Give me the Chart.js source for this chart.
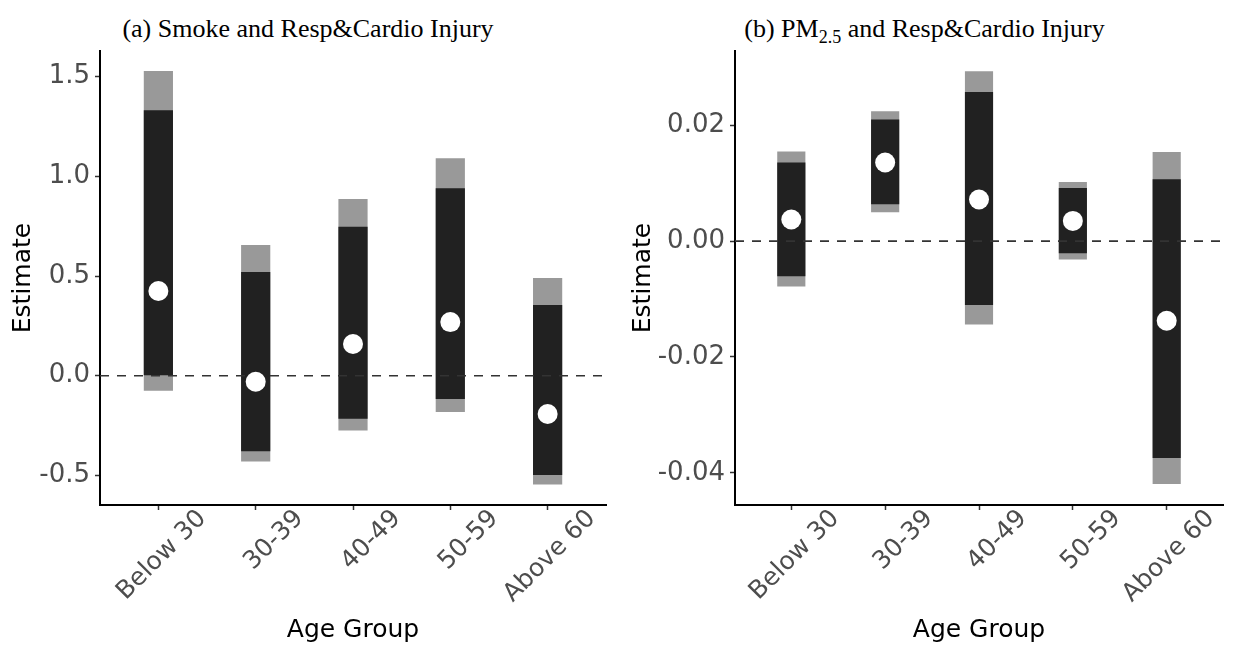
<!DOCTYPE html>
<html lang="en">
<head>
  <meta charset="UTF-8">
  <title>Resp&amp;Cardio Injury by Age Group</title>
  <script src="https://cdn.jsdelivr.net/npm/chart.js"></script>
  <style>
    html, body { margin: 0; padding: 0; background: #fff; }
    #wrap { position: relative; width: 1233px; height: 648px; }
    canvas { position: absolute; top: 0; }
    #graficoA { left: 0; }
    #graficoB { left: 616px; }
    .titulo {
      position: absolute; top: 16px; text-align: center; white-space: nowrap;
      font-family: "Liberation Serif", "DejaVu Serif", serif; font-size: 26px; line-height: 26px; color: #000;
    }
    .titulo sub { font-size: 18px; line-height: 0; vertical-align: -6px; }
  </style>
</head>
<body>
<div id="wrap">
  <div class="titulo" style="left:0; width:616px">(a) Smoke and Resp&amp;Cardio Injury</div>
  <div class="titulo" style="left:616px; width:617px">(b) PM<sub>2.5</sub> and Resp&amp;Cardio Injury</div>
  <canvas id="graficoA" width="616" height="648"></canvas>
  <canvas id="graficoB" width="617" height="648"></canvas>
</div>

<script>
  // age groups shared by both panels
  const categorias = ['Below 30', '30-39', '40-49', '50-59', 'Above 60'];

  // (a) smoke: point estimate, inner (dark) and outer (grey) intervals
  const smokeEst     = [0.425, -0.030, 0.159, 0.269, -0.192];
  const smokeInnerLo = [0.003, -0.378, -0.216, -0.117, -0.498];
  const smokeInnerHi = [1.331, 0.520, 0.747, 0.940, 0.355];
  const smokeOuterLo = [-0.075, -0.430, -0.274, -0.182, -0.545];
  const smokeOuterHi = [1.528, 0.655, 0.886, 1.090, 0.490];
  const smokeTicks   = [-0.5, 0.0, 0.5, 1.0, 1.5];

  // (b) PM2.5
  const pmEst     = [0.00374, 0.01358, 0.00720, 0.00350, -0.01375];
  const pmInnerLo = [-0.00604, 0.00638, -0.01104, -0.00207, -0.03745];
  const pmInnerHi = [0.01358, 0.02100, 0.02577, 0.00920, 0.01070];
  const pmOuterLo = [-0.00782, 0.00500, -0.01438, -0.00316, -0.04193];
  const pmOuterHi = [0.01548, 0.02243, 0.02934, 0.01023, 0.01541];
  const pmTicks   = [-0.04, -0.02, 0.00, 0.02];

  const fonte = "'DejaVu Sans', sans-serif";

  // dashed zero line, drawn after the dark bars and before the points
  const linhaZero = {
    id: 'linhaZero',
    afterDatasetDraw(chart, args) {
      if (args.index !== 1) return;
      const { ctx, chartArea, scales } = chart;
      const y = scales.y.getPixelForValue(0);
      ctx.save();
      ctx.strokeStyle = '#333';
      ctx.lineWidth = 1.6;
      ctx.setLineDash([9, 8]);
      ctx.beginPath();
      ctx.moveTo(chartArea.left, y);
      ctx.lineTo(chartArea.right, y);
      ctx.stroke();
      ctx.restore();
    }
  };

  function criarGrafico(id, est, inLo, inHi, outLo, outHi, ticks, yMin, yMax, casas, eixoY, dirPad, tituloPad) {
    const faixa = (lo, hi) => categorias.map((c, i) => ({ x: i + 1, y: [lo[i], hi[i]] }));

    return new Chart(document.getElementById(id).getContext('2d'), {
      type: 'bar',
      data: {
        datasets: [
          { data: faixa(outLo, outHi), backgroundColor: '#999999', grouped: false, order: 3,
            categoryPercentage: 1, barPercentage: 0.3 },
          { data: faixa(inLo, inHi), backgroundColor: '#212121', grouped: false, order: 2,
            categoryPercentage: 1, barPercentage: 0.3 },
          { type: 'scatter', data: est.map((v, i) => ({ x: i + 1, y: v })), order: 1,
            pointRadius: 10, pointBackgroundColor: '#ffffff', pointBorderWidth: 0 }
        ]
      },
      options: {
        responsive: false,
        animation: false,
        layout: { padding: { top: 51, right: dirPad, bottom: 0, left: 0 } },
        plugins: { legend: { display: false }, tooltip: { enabled: false } },
        scales: {
          x: {
            type: 'linear', min: 0.4, max: 5.6, offset: false,
            afterBuildTicks: s => { s.ticks = categorias.map((c, i) => ({ value: i + 1 })); },
            afterFit: s => { s.height = 143; },
            border: { display: true, color: '#000', width: 2 },
            grid: { offset: false, drawOnChartArea: false, tickLength: 5, tickColor: '#333', tickWidth: 1.5 },
            ticks: {
              autoSkip: false, minRotation: 45, maxRotation: 45, labelOffset: 44, padding: -6,
              color: '#4d4d4d', font: { family: fonte, size: 25 },
              callback: v => categorias[v - 1]
            },
            title: { display: true, text: 'Age Group', color: '#000',
              font: { family: fonte, size: 25 }, padding: { top: 0, bottom: 3 } }
          },
          y: {
            min: yMin, max: yMax,
            afterBuildTicks: s => { s.ticks = ticks.map(v => ({ value: v })); },
            afterFit: s => { s.width = eixoY; },
            border: { display: true, color: '#000', width: 2 },
            grid: { drawOnChartArea: false, tickLength: 5, tickColor: '#333', tickWidth: 1.5 },
            ticks: {
              padding: 5, color: '#4d4d4d', font: { family: fonte, size: 26 },
              callback: v => v.toFixed(casas)
            },
            title: { display: true, text: 'Estimate', color: '#000',
              font: { family: fonte, size: 25 }, padding: { top: tituloPad, bottom: 0 } }
          }
        }
      },
      plugins: [linhaZero]
    });
  }

  criarGrafico('graficoA', smokeEst, smokeInnerLo, smokeInnerHi, smokeOuterLo, smokeOuterHi,
    smokeTicks, -0.648, 1.628, 1, 100, 10, 8);
  criarGrafico('graficoB', pmEst, pmInnerLo, pmInnerHi, pmOuterLo, pmOuterHi,
    pmTicks, -0.04556, 0.03284, 2, 119, 7, 12);
</script>
</body>
</html>
